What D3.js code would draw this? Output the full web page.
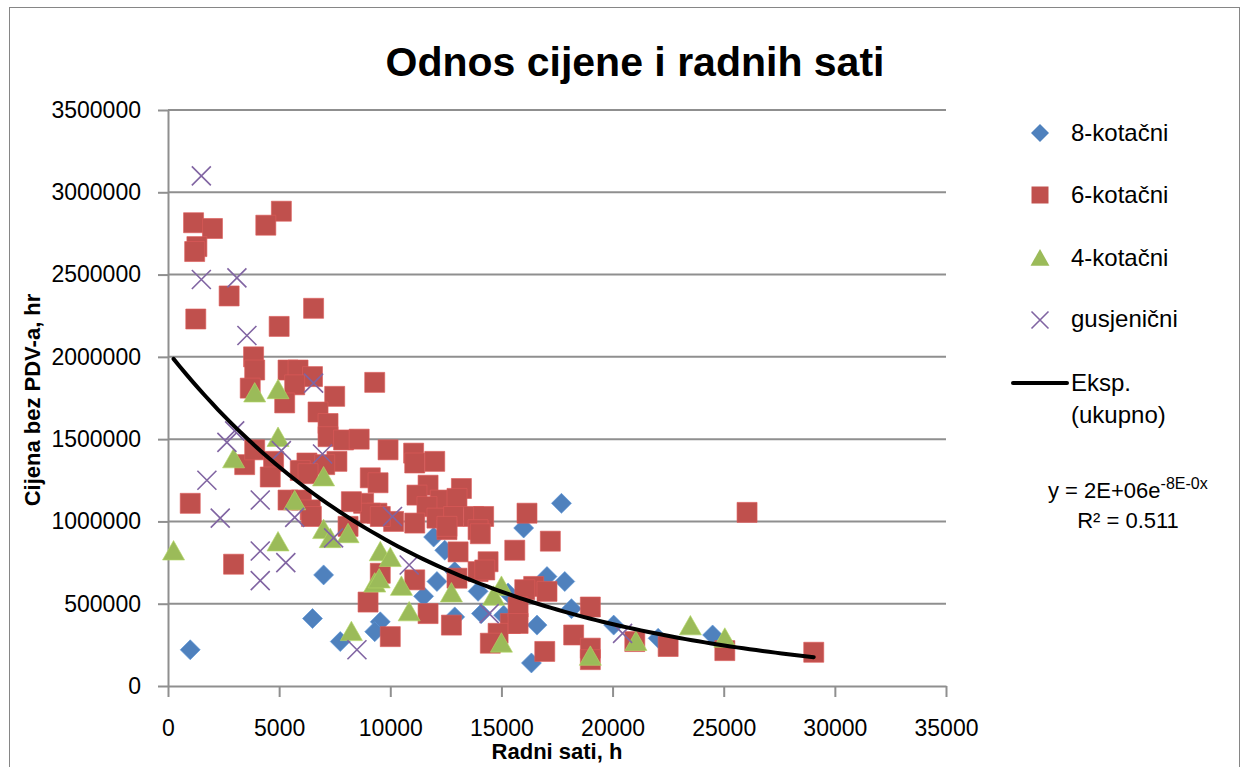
<!DOCTYPE html>
<html><head><meta charset="utf-8">
<script src="https://cdn.jsdelivr.net/npm/d3@7"></script>
<style>
body{margin:0;background:#fff;}
svg{display:block;font-family:"Liberation Sans",Arial,sans-serif;}
</style>
</head><body>
<svg id="c" width="1249" height="767"></svg>
<script>
// ---------- DATA ----------
const xTicks = [0, 5000, 10000, 15000, 20000, 25000, 30000, 35000];
const yTicks = [0, 500000, 1000000, 1500000, 2000000, 2500000, 3000000, 3500000];
const seriesNames = ["8-kotačni", "6-kotačni", "4-kotačni", "gusjenični"];

// [radni sati, cijena]
const osmokotacni = [
  [1000,220000],[7000,675000],[6500,410000],[7750,270000],[11950,905000],[12450,825000],
  [16000,960000],[17700,1110000],[12100,635000],[11500,545000],[12900,695000],[13950,575000],
  [15300,565000],[14100,440000],[15100,430000],[16600,370000],[16350,140000],[17050,665000],
  [9550,390000],[9300,330000],[12900,420000],[17850,635000],[18150,470000],[20050,370000],
  [22050,290000],[24500,310000]
];
const sestkotacni = [
  [1150,2815000],[2000,2780000],[1300,2670000],[1200,2640000],[5100,2885000],[4400,2800000],
  [2750,2370000],[1250,2230000],[5000,2185000],[6550,2295000],[3850,2000000],[3900,1920000],
  [3700,1810000],[5400,1920000],[5850,1920000],[6500,1880000],[5700,1830000],[7500,1760000],
  [9300,1845000],[5250,1720000],[6750,1665000],[7200,1595000],[7200,1515000],[7900,1495000],
  [8600,1500000],[9900,1435000],[11050,1415000],[12000,1365000],[9100,1265000],[9450,1235000],
  [11100,1355000],[6250,1355000],[5950,1310000],[7600,1365000],[7050,1345000],[11700,1220000],
  [13200,1200000],[11200,1160000],[12250,1130000],[13000,1140000],[11650,1090000],[16150,1050000],
  [12100,1020000],[12850,1030000],[13750,1030000],[14200,1030000],[11100,990000],[8800,1110000],
  [9400,1050000],[10150,1000000],[17200,880000],[9100,1050000],[9550,1030000],[12550,950000],
  [13950,950000],[15600,825000],[13050,815000],[14400,755000],[13950,695000],[9550,685000],
  [11100,645000],[13000,655000],[16450,605000],[17050,575000],[16050,585000],[9000,510000],
  [11700,440000],[12750,370000],[15400,380000],[14850,320000],[10000,300000],[14500,260000],
  [16950,210000],[14250,705000],[15750,480000],[15750,380000],[19000,480000],[18250,310000],
  [19000,230000],[19000,160000],[22500,240000],[25050,215000],[26050,1055000],[29050,205000],
  [21000,270000],[1000,1110000],[2950,740000],[3450,1345000],[3900,1435000],[4750,1365000],
  [4600,1270000],[6300,1290000],[5400,1130000],[6000,1130000],[6400,1070000],[6450,1030000],
  [8250,1120000],[8100,970000],[14050,925000],[12550,970000]
];
const cetverokotacni = [
  [250,820000],[3900,1780000],[4950,1800000],[2950,1380000],[4950,1510000],[7000,1270000],
  [5700,1125000],[4950,875000],[7000,950000],[7300,895000],[8100,925000],[8250,330000],
  [9550,815000],[10000,780000],[9300,625000],[9500,650000],[10500,605000],[10850,450000],
  [12750,565000],[15000,605000],[14650,545000],[15000,260000],[23500,365000],[25050,290000],
  [21050,270000],[19000,180000]
];
const gusjenicni = [
  [1500,3100000],[1500,2470000],[3100,2480000],[3550,2130000],[2650,1480000],[3000,1550000],
  [1750,1250000],[2350,1020000],[4150,1130000],[4150,820000],[4150,640000],[5300,750000],
  [5100,1430000],[6550,1840000],[6950,1410000],[5700,1025000],[7450,900000],[8500,220000],
  [10100,1030000],[10850,735000],[14450,440000],[20450,320000]
];
// exponential trend: y = A * e^(B x)
const trendA = 2030000;
const trendB = -0.0000843;
const equationMain = "y = 2E+06e";
const equationExp = "-8E-0x";
const rSquared = "R² = 0.511";

// ---------- CHART ----------
const svg = d3.select("#c");
const W = 1249, H = 767;
const plot = {left:168, right:946, top:110, bottom:686};
const gridColor = "#8f8f8f";
const colors = ["#4F81BD", "#C0504D", "#9BBB59", "#8064A2"];

svg.append("rect").attr("x",0).attr("y",0).attr("width",W).attr("height",H).attr("fill","#fff");
svg.append("rect").attr("x",9.5).attr("y",7.5).attr("width",1230).attr("height",770)
  .attr("fill","none").attr("stroke","#868686").attr("stroke-width",1);

const x = d3.scaleLinear().domain([0,35000]).range([plot.left, plot.right]);
const y = d3.scaleLinear().domain([0,3500000]).range([plot.bottom, plot.top]);

// gridlines
svg.append("g").selectAll("line").data(yTicks.filter(d=>d>0)).join("line")
  .attr("x1",plot.left).attr("x2",plot.right)
  .attr("y1",d=>y(d)).attr("y2",d=>y(d))
  .attr("stroke",gridColor).attr("stroke-width",2);

// axes
const yAxis = svg.append("g").attr("transform",`translate(${plot.left},0)`)
  .call(d3.axisLeft(y).tickValues(yTicks).tickFormat(d3.format("d")).tickSize(10).tickSizeOuter(0).tickPadding(17));
const xAxis = svg.append("g").attr("transform",`translate(0,${plot.bottom})`)
  .call(d3.axisBottom(x).tickValues(xTicks).tickFormat(d3.format("d")).tickSize(11).tickSizeOuter(0).tickPadding(23));
[yAxis, xAxis].forEach(g=>{
  g.selectAll("path.domain").attr("stroke",gridColor).attr("stroke-width",2);
  g.selectAll(".tick line").attr("stroke",gridColor).attr("stroke-width",2);
  g.selectAll("text").attr("font-family","Liberation Sans, Arial, sans-serif")
    .attr("font-size",23).attr("fill","#000");
});

// marker shapes
const shapes = [
  s => `M0,${-s}L${s},0L0,${s}L${-s},0Z`,                 // diamond
  s => `M${-s},${-s}H${s}V${s}H${-s}Z`,                    // square
  s => `M0,${-s}L${s*1.05},${s*0.85}H${-s*1.05}Z`,        // triangle
  s => `M${-s},${-s}L${s},${s}M${-s},${s}L${s},${-s}`     // cross
];
const allSeries = [osmokotacni, sestkotacni, cetverokotacni, gusjenicni];
const sizes = [10, 10, 10.5, 9.5];

allSeries.forEach((data,i)=>{
  const g = svg.append("g");
  const p = g.selectAll("path").data(data).join("path")
    .attr("transform",d=>`translate(${x(d[0])},${y(d[1])})`)
    .attr("d",shapes[i](sizes[i]));
  if(i===3){
    p.attr("fill","none").attr("stroke",colors[i]).attr("stroke-width",1.6);
  } else {
    p.attr("fill",colors[i]).attr("stroke",d3.color(colors[i]).brighter(0.4)).attr("stroke-width",0.8).attr("stroke-opacity",0.8);
  }
});

// trend line
const allX = allSeries.flat().map(d=>d[0]);
const [xmin,xmax] = d3.extent(allX);
const trendPts = d3.range(0,101).map(k=>{const xv = xmin + (xmax-xmin)*k/100; return [xv, trendA*Math.exp(trendB*xv)];});
svg.append("path").datum(trendPts)
  .attr("d", d3.line().x(d=>x(d[0])).y(d=>y(d[1])))
  .attr("fill","none").attr("stroke","#000").attr("stroke-width",4).attr("stroke-linecap","round");

// title
svg.append("text").attr("x",635).attr("y",76).attr("text-anchor","middle")
  .attr("font-size",41).attr("font-weight","bold").text("Odnos cijene i radnih sati");

// axis titles
svg.append("text").attr("x",(plot.left+plot.right)/2).attr("y",759).attr("text-anchor","middle")
  .attr("font-size",22).attr("font-weight","bold").text("Radni sati, h");
svg.append("text").attr("transform","translate(40,400) rotate(-90)").attr("text-anchor","middle")
  .attr("font-size",22).attr("font-weight","bold").text("Cijena bez PDV-a, hr");

// legend
const legY = [133, 195, 258, 320];
const legBase = [141, 203, 266, 327];
const legSizes = [9, 8.5, 9, 8.5];
seriesNames.forEach((name,i)=>{
  const m = svg.append("path").attr("transform",`translate(1040,${legY[i]})`).attr("d",shapes[i](legSizes[i]));
  if(i===3) m.attr("fill","none").attr("stroke",colors[i]).attr("stroke-width",1.6);
  else m.attr("fill",colors[i]);
  svg.append("text").attr("x",1071).attr("y",legBase[i]).attr("font-size",24).text(name);
});
svg.append("line").attr("x1",1013).attr("x2",1067).attr("y1",383).attr("y2",383)
  .attr("stroke","#000").attr("stroke-width",4).attr("stroke-linecap","round");
svg.append("text").attr("x",1071).attr("y",391).attr("font-size",24).text("Eksp.");
svg.append("text").attr("x",1071).attr("y",423).attr("font-size",24).text("(ukupno)");

// equation
const eq = svg.append("text").attr("x",1048).attr("y",498).attr("font-size",22);
eq.append("tspan").text(equationMain);
eq.append("tspan").attr("font-size",16).attr("dy",-9).text(equationExp);
svg.append("text").attr("x",1128).attr("y",528).attr("text-anchor","middle").attr("font-size",22).text(rSquared);
</script>
</body></html>
